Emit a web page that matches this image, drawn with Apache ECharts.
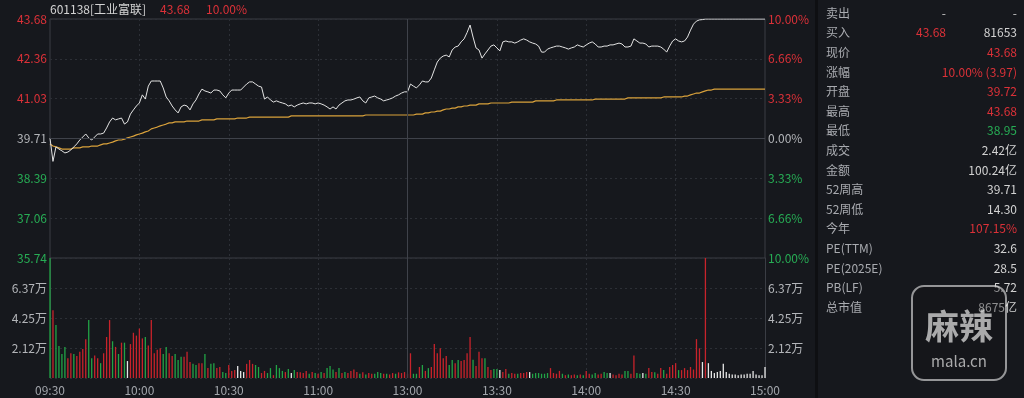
<!DOCTYPE html>
<html>
<head>
<meta charset="utf-8">
<script src="https://cdn.jsdelivr.net/npm/echarts@6.0.0/dist/echarts.min.js"></script>
<style>
  html, body { margin: 0; padding: 0; background: #16181d; }
  #main { width: 1024px; height: 398px; }
</style>
</head>
<body>
<div id="main"></div>
<script>
// 601138 intraday, one point per minute (09:30 .. 11:30/13:00 .. 15:00)
var preClose = 39.71;
var limitUp = 43.68;

var prices = [
  39.72,38.95,39.43,39.36,39.30,39.23,39.26,39.33,39.43,39.53,
  39.66,39.76,39.86,39.73,39.66,39.76,39.86,39.86,39.89,40.06,
  40.26,40.39,40.33,40.36,40.39,40.19,40.26,40.52,40.66,40.79,
  40.89,41.16,41.02,41.45,41.62,41.62,41.62,41.62,41.39,41.09,
  40.96,40.79,40.66,40.56,40.76,40.82,40.79,40.66,40.86,40.99,
  41.19,41.35,41.29,41.26,41.22,41.32,41.32,41.29,41.16,41.06,
  41.22,41.32,41.32,41.32,41.32,41.42,41.52,41.59,41.59,41.52,
  41.45,41.42,41.02,41.09,40.99,40.92,40.96,40.92,40.89,40.86,
  40.79,40.82,40.76,40.82,40.86,40.89,40.86,40.89,40.89,40.86,
  40.89,40.86,40.82,40.76,40.69,40.76,40.69,40.82,40.89,40.96,
  40.99,40.99,41.02,41.06,41.09,40.96,40.89,41.06,41.09,41.12,
  41.06,41.02,40.96,40.99,41.02,41.06,41.12,41.16,41.22,41.26,
  41.26,41.52,41.45,41.39,41.49,41.62,41.59,41.59,41.72,41.99,
  42.25,42.38,42.45,42.48,42.42,42.65,42.75,42.78,42.92,43.02,
  43.23,43.48,43.08,42.72,42.65,42.38,42.52,42.65,42.78,42.82,
  42.72,42.62,42.92,42.95,42.92,42.92,42.88,42.92,42.98,43.02,
  42.98,42.92,42.88,42.85,42.78,42.58,42.58,42.68,42.72,42.75,
  42.78,42.78,42.75,42.72,42.68,42.72,42.75,42.82,42.78,42.75,
  42.82,42.88,42.92,42.85,42.75,42.75,42.78,42.78,42.82,42.82,
  42.85,42.88,42.85,42.75,42.75,42.78,43.02,42.95,42.88,42.88,
  42.85,42.75,42.78,42.78,42.78,42.75,42.68,42.58,42.78,42.95,
  43.02,42.95,42.92,42.95,43.08,43.31,43.51,43.61,43.65,43.66,
  43.68,43.68,43.68,43.68,43.68,43.68,43.68,43.68,43.68,43.68,
  43.68,43.68,43.68,43.68,43.68,43.68,43.68,43.68,43.68,43.68,
  43.68
];

var avgPrices = [
  39.53,39.46,39.43,39.40,39.36,39.36,39.36,39.36,39.40,39.40,
  39.40,39.43,39.43,39.43,39.46,39.46,39.46,39.50,39.53,39.53,
  39.56,39.59,39.63,39.66,39.66,39.69,39.73,39.76,39.79,39.83,
  39.86,39.89,39.93,39.96,40.03,40.06,40.09,40.13,40.16,40.19,
  40.23,40.23,40.26,40.26,40.26,40.26,40.29,40.29,40.29,40.29,
  40.29,40.33,40.33,40.33,40.33,40.33,40.36,40.36,40.36,40.36,
  40.36,40.36,40.36,40.39,40.39,40.39,40.39,40.42,40.42,40.42,
  40.42,40.42,40.42,40.42,40.42,40.42,40.42,40.42,40.42,40.42,
  40.42,40.46,40.46,40.46,40.46,40.46,40.46,40.46,40.46,40.46,
  40.46,40.46,40.46,40.46,40.46,40.46,40.46,40.46,40.46,40.46,
  40.46,40.46,40.46,40.46,40.46,40.46,40.49,40.49,40.49,40.49,
  40.49,40.49,40.49,40.49,40.49,40.49,40.49,40.49,40.49,40.49,
  40.49,40.49,40.49,40.52,40.52,40.52,40.56,40.56,40.59,40.59,
  40.62,40.62,40.66,40.69,40.69,40.72,40.72,40.76,40.76,40.79,
  40.79,40.82,40.82,40.82,40.86,40.86,40.86,40.86,40.89,40.89,
  40.89,40.89,40.89,40.89,40.89,40.92,40.92,40.92,40.92,40.92,
  40.92,40.92,40.92,40.96,40.96,40.96,40.96,40.96,40.96,40.96,
  40.99,40.99,40.99,40.99,40.99,40.99,40.99,40.99,40.99,40.99,
  40.99,40.99,40.99,41.02,41.02,41.02,41.02,41.02,41.02,41.02,
  41.02,41.02,41.02,41.02,41.06,41.06,41.06,41.06,41.06,41.06,
  41.06,41.06,41.06,41.06,41.06,41.06,41.09,41.09,41.09,41.09,
  41.09,41.09,41.09,41.12,41.12,41.16,41.19,41.22,41.22,41.26,
  41.29,41.32,41.32,41.35,41.35,41.35,41.35,41.35,41.35,41.35,
  41.35,41.35,41.35,41.35,41.35,41.35,41.35,41.35,41.35,41.35,
  41.35
];

// volume per minute, in 万 shares
var volumes = [
  8.5,4.8,3.75,2.26,1.7,2.2,1.4,1.75,1.7,1.55,1.85,
  2.05,2.75,4.1,1.4,1.6,1.4,1.05,1.75,2.9,4.1,
  2.6,2.2,1.7,2.5,2.5,1.2,2.4,3.2,3.0,3.5,
  2.8,2.9,2.3,4.1,1.75,2.0,2.1,1.7,2.2,1.75,
  1.55,1.7,1.27,1.5,1.5,1.85,1.13,1.0,0.92,1.05,
  1.05,1.7,0.7,1.0,1.05,0.7,0.78,0.42,0.35,0.92,
  0.5,0.56,0.85,0.5,0.42,1.0,1.27,1.0,0.92,0.78,
  0.35,0.5,0.35,0.7,0.2,0.92,0.7,0.5,0.42,0.63,
  0.35,0.56,0.42,0.4,0.35,0.5,0.3,0.42,0.35,0.3,
  0.42,0.35,0.7,0.85,0.6,0.42,0.7,0.35,0.42,0.35,
  0.5,0.6,0.42,0.3,0.4,0.25,0.35,0.3,0.3,0.42,
  0.35,0.3,0.3,0.25,0.35,0.3,0.4,0.35,0.42,0.3,
  1.75,0.3,0.3,0.78,0.92,0.5,0.7,0.78,2.4,1.75,
  2.1,1.4,1.55,0.92,1.27,1.05,1.27,1.2,1.27,1.75,
  2.9,1.3,0.85,1.85,1.4,1.4,0.78,0.56,0.63,0.63,
  0.56,0.42,0.63,0.3,0.35,0.3,0.3,0.35,0.35,0.42,
  0.42,0.3,0.35,0.35,0.3,0.3,0.35,0.7,0.35,0.3,
  0.5,0.3,0.2,0.25,0.2,0.25,0.2,0.25,0.2,0.5,
  0.3,0.25,0.35,0.25,0.3,0.42,0.35,0.35,0.25,0.2,
  0.3,0.25,0.5,0.5,0.3,1.6,0.35,0.3,0.35,0.3,
  0.7,0.42,0.4,0.3,0.7,0.56,0.3,0.78,0.92,1.05,
  0.56,0.56,0.7,0.56,0.78,0.6,2.75,2.1,1.13,8.5,
  1.05,0.5,0.35,0.42,0.5,1.0,0.42,0.3,0.25,0.25,
  0.2,0.25,0.25,0.3,0.3,0.5,0.25,0.2,0.2,0.78
];

// r = up, g = down, w = unchanged
var volDir = (
  'grggggrrgrr' +
  'rrggrrgrrr' + 'grgrgwrrrr' + 'rgrrrrrggr' + 'rgggrrrggr' +
  'rgrggrrggr' + 'rrwwwrrrgg' + 'rrggrgggrg' + 'wgrrrrgrgr' +
  'grgggrgrgr' + 'rrrgrgrrgg' + 'grgrrgrrrr' + 'rggrgrgrrr' +
  'rrrggrgrrr' + 'rgrrrgrrgg' + 'wrrgrrgrrr' + 'wggggggrrr' +
  'rgrgrrgrgr' + 'rggrrggwrr' + 'rrggrrggwg' + 'rrgrrgrrrr' +
  'grrrrrrrwr' + 'wwwwwwwwww' + 'wwwwwwwwww'
).split('');

var timeTicks = ['09:30', '10:00', '10:30', '11:00', '13:00', '13:30', '14:00', '14:30', '15:00'];
var priceLabels = ['35.74', '37.06', '38.39', '39.71', '41.03', '42.36', '43.68'];
var pctLabels = ['10.00%', '6.66%', '3.33%', '0.00%', '3.33%', '6.66%', '10.00%'];
var volLabels = ['', '2.12万', '4.25万', '6.37万', ''];

var quoteRows = [
  ['卖出', '-', '-'],
  ['买入', '43.68', '81653'],
  ['现价', '', '43.68'],
  ['涨幅', '', '10.00% (3.97)'],
  ['开盘', '', '39.72'],
  ['最高', '', '43.68'],
  ['最低', '', '38.95'],
  ['成交', '', '2.42亿'],
  ['金额', '', '100.24亿'],
  ['52周高', '', '39.71'],
  ['52周低', '', '14.30'],
  ['今年', '', '107.15%'],
  ['PE(TTM)', '', '32.6'],
  ['PE(2025E)', '', '28.5'],
  ['PB(LF)', '', '5.72'],
  ['总市值', '', '8675亿']
];
var quoteColors = ['w', 'rw', 'r', 'r', 'r', 'r', 'g', 'w', 'w', 'w', 'w', 'r', 'w', 'w', 'w', 'w'];

var RED = '#dc3138';
var GREEN = '#27ad55';
var GREY = '#b3b5b9';
var FONT = '"Noto Sans CJK SC", "Noto Sans", sans-serif';
var colorOf = { r: RED, g: GREEN, w: '#d2d2d2' };
var barColor = { r: '#c8232b', g: '#22a446', w: '#e6e6e6' };

// minute categories
var times = [];
for (var h = 9; h <= 15; h++) {
  for (var m = 0; m < 60; m++) {
    var t = h * 60 + m;
    if ((t >= 570 && t <= 690) || (t > 780 && t <= 900)) {
      times.push((h < 10 ? '0' : '') + h + ':' + (m < 10 ? '0' : '') + m);
    }
  }
}

var step = (limitUp - preClose) / 3;
function toAxis(p) { return (p - preClose) / step; }

var gridLine = { color: '#2c2f36', type: [2, 3], width: 1 };
var frameLine = { color: '#3a3d44', width: 1 };

var graphics = [
  { type: 'text', x: 50, y: 9, style: { text: '601138[工业富联]', fill: '#d4d4d4', font: '12px ' + FONT, textVerticalAlign: 'middle' } },
  { type: 'text', x: 160, y: 9, style: { text: '43.68', fill: RED, font: '12px ' + FONT, textVerticalAlign: 'middle' } },
  { type: 'text', x: 206, y: 9, style: { text: '10.00%', fill: RED, font: '12px ' + FONT, textVerticalAlign: 'middle' } },
  { type: 'rect', shape: { x: 815, y: 0, width: 3, height: 398 }, style: { fill: '#0e0f12' } }
];
quoteRows.forEach(function (row, k) {
  var y = 13.3 + k * 19.6;
  var c = quoteColors[k];
  graphics.push({ type: 'text', x: 826, y: y, style: { text: row[0], fill: '#a9abb0', font: '12px ' + FONT, textVerticalAlign: 'middle' } });
  if (row[1]) {
    graphics.push({ type: 'text', x: 946, y: y, style: { text: row[1], fill: row[1] === '-' ? '#c8c8c8' : colorOf[c[0]], font: '12px ' + FONT, textAlign: 'right', textVerticalAlign: 'middle' } });
  }
  graphics.push({ type: 'text', x: 1017, y: y, style: { text: row[2], fill: row[2] === '-' ? '#c8c8c8' : colorOf[c[c.length - 1]], font: '12px ' + FONT, textAlign: 'right', textVerticalAlign: 'middle' } });
});
// site watermark
graphics.push(
  { type: 'rect', shape: { x: 912, y: 286, width: 94, height: 94, r: 12 }, style: { fill: 'rgba(20,20,22,0.35)', stroke: 'rgba(235,235,235,0.6)', lineWidth: 2 } },
  { type: 'text', x: 959, y: 326, style: { text: '麻辣', fill: 'rgba(220,220,220,0.75)', font: 'bold 34px ' + FONT, textAlign: 'center', textVerticalAlign: 'middle' } },
  { type: 'text', x: 959, y: 361, style: { text: 'mala.cn', fill: 'rgba(220,220,220,0.75)', font: '15px ' + FONT, textAlign: 'center', textVerticalAlign: 'middle' } }
);

var chart = echarts.init(document.getElementById('main'));
chart.setOption({
  backgroundColor: '#16181d',
  animation: false,
  textStyle: { fontFamily: FONT },
  grid: [
    { left: 50, top: 19, width: 715, height: 239, show: true, borderColor: '#3a3d44', borderWidth: 1 },
    { left: 50, top: 258, width: 715, height: 120 }
  ],
  xAxis: [
    {
      type: 'category', gridIndex: 0, data: times, boundaryGap: false,
      axisLine: { show: false }, axisTick: { show: false }, axisLabel: { show: false },
      splitLine: { show: true, interval: function (i) { return i % 30 === 0 && i > 0 && i < 240; }, lineStyle: gridLine }
    },
    {
      type: 'category', gridIndex: 1, data: times, boundaryGap: false,
      axisLine: { show: false }, axisTick: { show: false },
      axisLabel: {
        interval: function (i) { return i % 30 === 0; },
        formatter: function (v, i) { return timeTicks[i / 30]; },
        color: '#a2a5ab', fontSize: 12, margin: 6
      },
      splitLine: { show: true, interval: function (i) { return i % 30 === 0 && i > 0 && i < 240; }, lineStyle: gridLine }
    }
  ],
  yAxis: [
    {
      type: 'value', gridIndex: 0, position: 'left', min: -3, max: 3, interval: 1,
      axisLine: { show: false }, axisTick: { show: false },
      axisLabel: {
        margin: 3, fontSize: 12,
        formatter: function (v) { return priceLabels[Math.round(v) + 3]; },
        color: function (v) { v = Math.round(v); return v > 0 ? RED : (v < 0 ? GREEN : GREY); }
      },
      splitLine: { show: true, lineStyle: gridLine }
    },
    {
      type: 'value', gridIndex: 0, position: 'right', min: -3, max: 3, interval: 1,
      axisLine: { show: false }, axisTick: { show: false },
      axisLabel: {
        margin: 3, fontSize: 12,
        formatter: function (v) { return pctLabels[3 - Math.round(v)]; },
        color: function (v) { v = Math.round(v); return v > 0 ? RED : (v < 0 ? GREEN : GREY); }
      },
      splitLine: { show: false }
    },
    {
      type: 'value', gridIndex: 1, position: 'left', min: 0, max: 8.49, interval: 2.1225,
      axisLine: { show: true, lineStyle: frameLine }, axisTick: { show: false },
      axisLabel: { margin: 3, fontSize: 12, color: GREY, formatter: function (v) { return volLabels[Math.round(v / 2.1225)]; } },
      splitLine: { show: true, lineStyle: gridLine }
    },
    {
      type: 'value', gridIndex: 1, position: 'right', min: 0, max: 8.49, interval: 2.1225,
      axisLine: { show: true, lineStyle: frameLine }, axisTick: { show: false },
      axisLabel: { margin: 3, fontSize: 12, color: GREY, formatter: function (v) { return volLabels[Math.round(v / 2.1225)]; } },
      splitLine: { show: false }
    }
  ],
  series: [
    {
      name: '价格', type: 'line', xAxisIndex: 0, yAxisIndex: 0,
      data: prices.map(toAxis), showSymbol: false, symbol: 'none',
      lineStyle: { color: '#e4e4e4', width: 1 },
      markLine: {
        silent: true, symbol: 'none', label: { show: false },
        lineStyle: { color: '#3f424a', type: 'solid', width: 1 },
        data: [{ yAxis: 0 }, { xAxis: times[120] }]
      },
      z: 3
    },
    {
      name: '均价', type: 'line', xAxisIndex: 0, yAxisIndex: 0,
      data: avgPrices.map(toAxis), showSymbol: false, symbol: 'none',
      lineStyle: { color: '#d9a13b', width: 1.2 },
      z: 2
    },
    {
      name: '成交量', type: 'bar', xAxisIndex: 1, yAxisIndex: 2,
      barWidth: 1.3,
      data: volumes.map(function (v, i) { return { value: v, itemStyle: { color: barColor[volDir[i]] } }; }),
      markLine: {
        silent: true, symbol: 'none', label: { show: false },
        lineStyle: { color: '#3f424a', type: 'solid', width: 1 },
        data: [{ xAxis: times[120] }]
      }
    }
  ],
  graphic: graphics
});
</script>
</body>
</html>
